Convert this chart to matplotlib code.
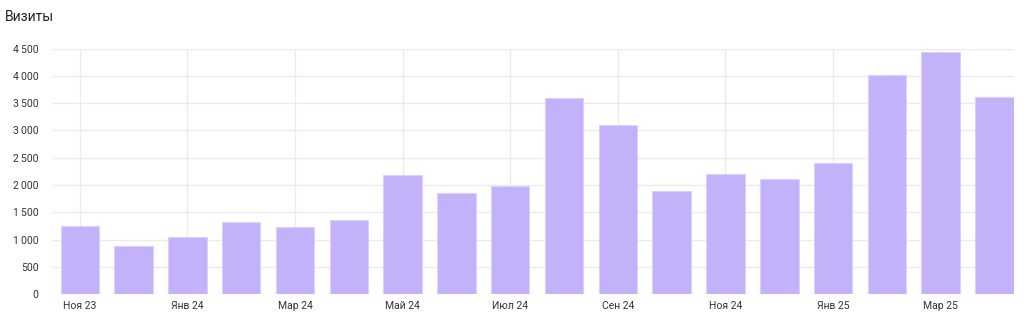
import matplotlib
matplotlib.use("Agg")
import matplotlib.pyplot as plt

plt.rcParams['font.family'] = ['Roboto', 'DejaVu Sans']

# monthly visits, Nov 2023 .. Apr 2025
months = ["Ноя 23", "Дек 23", "Янв 24", "Фев 24", "Мар 24", "Апр 24",
          "Май 24", "Июн 24", "Июл 24", "Авг 24", "Сен 24", "Окт 24",
          "Ноя 24", "Дек 24", "Янв 25", "Фев 25", "Мар 25", "Апр 25"]
visits = [1256, 880, 1056, 1320, 1240, 1358,
          2177, 1847, 1975, 3588, 3093, 1884,
          2197, 2105, 2398, 4022, 4435, 3620]
yticks = [0, 500, 1000, 1500, 2000, 2500, 3000, 3500, 4000, 4500]

fig = plt.figure(figsize=(10.24, 3.17), dpi=100)
ax = fig.add_axes([0.0511, 0.0716, 0.9395, 0.7751])

x = list(range(len(months)))
ax.bar(x, visits, width=0.716, color="#c3b1fa", edgecolor="#dcd0fc",
       linewidth=0.8, zorder=3)

ax.set_xlim(-0.51, 17.37)
ax.set_ylim(0, 4500)
ax.set_yticks(yticks)
ax.set_yticklabels([f"{v:,}".replace(",", "\u202f") for v in yticks])
ax.set_xticks(x[::2])
ax.set_xticklabels(months[::2])

ax.grid(True, color="#ebebeb", linewidth=1, zorder=0)
for s in ax.spines.values():
    s.set_visible(False)
ax.tick_params(length=0, labelsize=7.5, colors="#333333")
ax.tick_params(axis="y", pad=10)
ax.tick_params(axis="x", pad=5)

fig.text(0.005, 0.945, "Визиты", fontsize=10, color="#222222", va="center")

fig.savefig("out.png", dpi=100)
